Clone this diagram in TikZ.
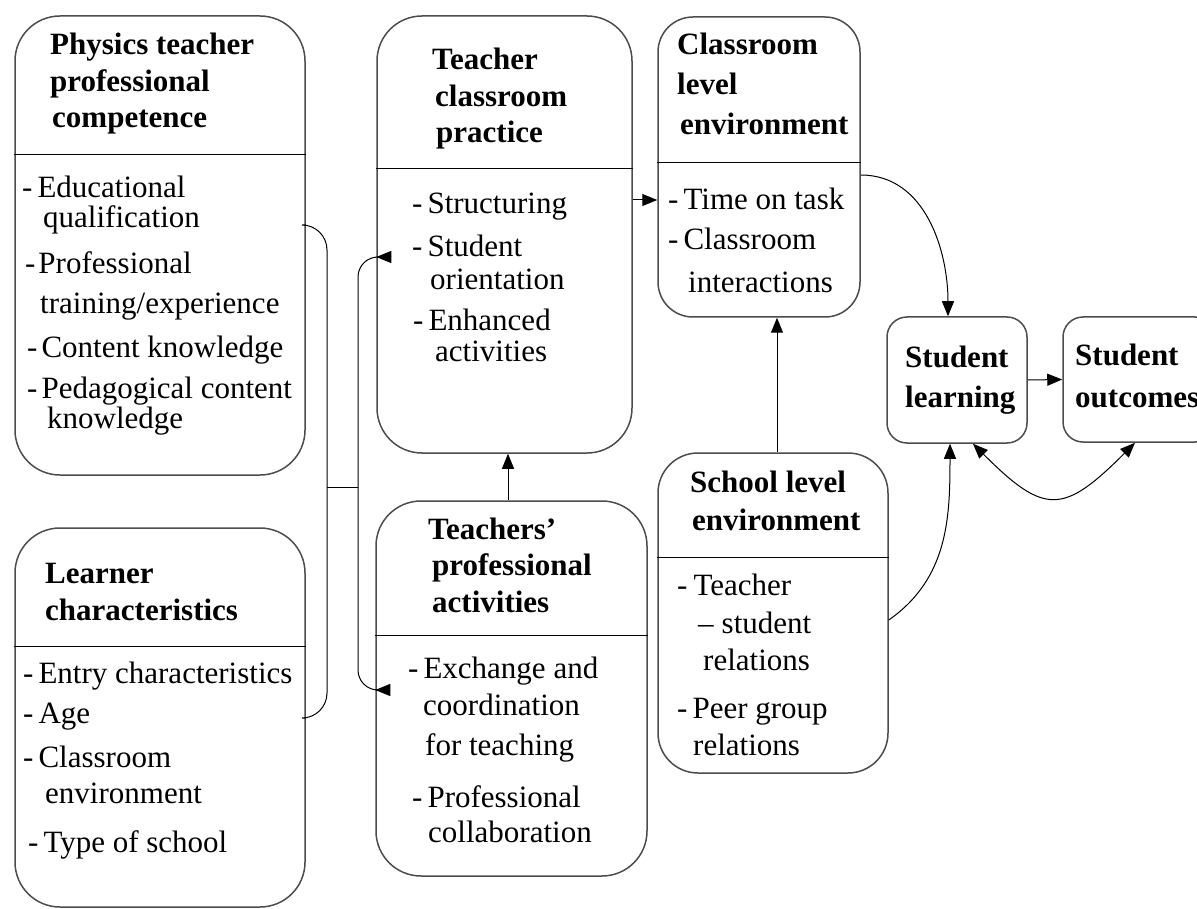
\documentclass[tikz,border=0pt]{standalone}
\usepackage{fontspec}
\setmainfont{Liberation Serif}
\usetikzlibrary{arrows.meta}
\tikzset{
  >={Triangle[length=15pt,width=12pt]},
  panel/.style={rectangle, rounded corners=45pt, draw=black!70, line width=1.5pt},
  head/.style={anchor=base west, inner sep=0pt, align=left,
    font=\fontsize{31}{36.5}\selectfont\bfseries},
  items/.style={anchor=base west, inner sep=0pt, align=left,
    font=\fontsize{31}{30}\selectfont},
  link/.style={->, line width=1pt},
}

\begin{document}
\begin{tikzpicture}[x=1pt, y=-1pt]
  \useasboundingbox (0,0) rectangle (1197,909);
  % boxes
  \node[panel, minimum width=290pt, minimum height=459pt] (phys) at (160,245.5) {};
  \node[panel, minimum width=290pt, minimum height=379pt] (learner) at (160,717.5) {};
  \node[panel, minimum width=255pt, minimum height=437pt] (prac) at (504.5,234.5) {};
  \node[panel, minimum width=271pt, minimum height=375pt] (act) at (511.5,688.5) {};
  \node[panel, rounded corners=35pt, minimum width=202pt, minimum height=300pt] (room) at (759,167) {};
  \node[panel, rounded corners=40pt, minimum width=230pt, minimum height=320pt] (school) at (773,613) {};
  \node[panel, rounded corners=20pt, minimum width=140pt, minimum height=126pt] (learn) at (957,380) {};
  \node[panel, rounded corners=20pt, minimum width=152pt, minimum height=125pt] (out) at (1139,379.5) {};
  % dividers
  \draw[line width=1pt] (phys.west |- 0,155) -- (phys.east |- 0,155);
  \draw[line width=1pt] (learner.west |- 0,646) -- (learner.east |- 0,646);
  \draw[line width=1pt] (prac.west |- 0,169) -- (prac.east |- 0,169);
  \draw[line width=1pt] (act.west |- 0,635) -- (act.east |- 0,635);
  \draw[line width=1pt] (room.west |- 0,163) -- (room.east |- 0,163);
  \draw[line width=1pt] (school.west |- 0,557) -- (school.east |- 0,557);
  % titles (placed at the baseline of their last line)
  \node[head] (physh) at (50,128) {Physics teacher\\professional\\\hspace*{2pt}competence};
  \node[head] (learnerh) at (45,620) {Learner\\characteristics};
  \node[head] (prach) at (432,143) {Teacher\\\hspace*{3pt}classroom\\\hspace*{4pt}practice};
  \node[head] (acth) at (428,612) {Teachers’\\\hspace*{4pt}professional\\\hspace*{4pt}activities};
  \node[head] (roomh) at (677,135) {Classroom\\[3.5pt]level\\[3.5pt]\hspace*{3pt}environment};
  \node[head] (schoolh) at (690,530) {School level\\[1.5pt]\hspace*{2pt}environment};
  \node[head] (learnh) at (905,407) {Student\\[3.5pt]learning};
  \node[head] (outh) at (1075,407) {Student\\[5.5pt]outcomes};
  % lists
  \node[items] (physl) at (22,428) {-\hspace*{5pt}Educational\\\hspace*{21pt}qualification\\[16pt]\hspace*{3pt}-\hspace*{3pt}Professional\\[10pt]\hspace*{18pt}training/experience\\[14pt]\hspace*{5pt}-\hspace*{4pt}Content knowledge\\[11pt]\hspace*{5pt}-\hspace*{4pt}Pedagogical content\\\hspace*{25pt}knowledge};
  \node[items] (learnerl) at (23,852) {-\hspace*{5pt}Entry characteristics\\[10pt]-\hspace*{5pt}Age\\[14pt]-\hspace*{5pt}Classroom\\[6pt]\hspace*{22pt}environment\\[19pt]\hspace*{5pt}-\hspace*{5pt}Type of school};
  \node[items] (pracl) at (412,362) {-\hspace*{5pt}Structuring\\[14pt]-\hspace*{5pt}Student\\[3pt]\hspace*{18pt}orientation\\[10pt]\hspace*{1pt}-\hspace*{5pt}Enhanced\\[2pt]\hspace*{23pt}activities};
  \node[items] (actl) at (408,842) {-\hspace*{5pt}Exchange and\\[7pt]\hspace*{15pt}coordination\\[10pt]\hspace*{17pt}for teaching\\[22pt]\hspace*{4pt}-\hspace*{5pt}Professional\\[5pt]\hspace*{20pt}collaboration};
  \node[items] (rooml) at (668,293) {-\hspace*{5pt}Time on task\\[10pt]-\hspace*{5pt}Classroom\\[13pt]\hspace*{20pt}interactions};
  \node[items] (schooll) at (677,755) {-\hspace*{6pt}Teacher\\[8pt]\hspace*{21pt}–\hspace*{8pt}student\\[7pt]\hspace*{26pt}relations\\[18pt]-\hspace*{5pt}Peer group\\[7pt]\hspace*{16pt}relations};
  % bracket joining the two left boxes
  \coordinate (brace) at (327,487);
  \coordinate (fork) at (358,487);
  \draw[line width=1pt, rounded corners=25pt]
    (phys.east |- 0,225) -- (brace |- 0,225) -- (brace |- 0,718) -- (learner.east |- 0,718);
  \draw[line width=1pt] (brace) -- (fork);
  \draw[link, <->, rounded corners=20pt]
    (prac.west |- 0,257) -- (fork |- 0,257) -- (fork |- 0,690) -- (act.west |- 0,690);
  % connectors
  \draw[link] (prac.east |- 0,200) -- (room.west |- 0,200);
  \draw[link] (act.north -| 508,0) -- (prac.south -| 508,0);
  \draw[link] (school.north -| 777,0) -- (room.south -| 777,0);
  \draw[link] (room.east |- 0,175) to[out=0, in=90] (learn.north -| 948,0);
  \draw[link] (school.east |- 0,620) to[out=35, in=-90] (learn.south -| 950,0);
  \draw[link] (learn.east) -- (out.west);
  \draw[link, <->] (learn.south -| 973,0) to[out=-45, in=-135, looseness=1.6] (out.south -| 1135,0);
\end{tikzpicture}
\end{document}
